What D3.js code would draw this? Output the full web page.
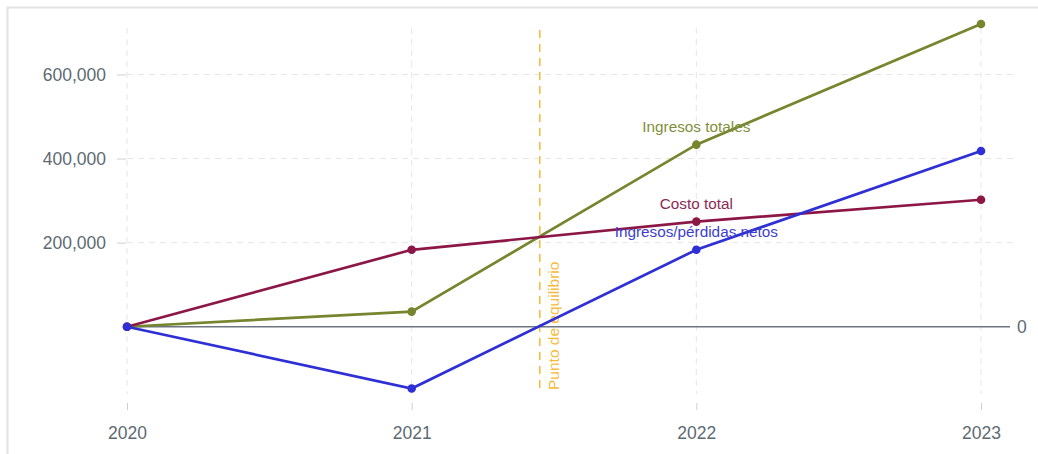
<!DOCTYPE html>
<html>
<head>
<meta charset="utf-8">
<script src="https://cdn.jsdelivr.net/npm/d3@7"></script>
<style>
  body { margin: 0; background: #fff; }
  svg { display: block; font-family: "Liberation Sans", Arial, sans-serif; }
</style>
</head>
<body>
<svg id="chart"></svg>
<script>
const years = [2020, 2021, 2022, 2023];
const ingresosTotales = [0, 36000, 433000, 720000];
const costoTotal = [0, 183000, 250000, 302000];
const ingresosNetos = [0, -147000, 183000, 418000];
const yTicks = [200000, 400000, 600000];
const breakEven = 2021.45;

const series = [
  { name: "Ingresos totales", values: ingresosTotales, color: "#76852e", label: "#7f8f3a" },
  { name: "Costo total", values: costoTotal, color: "#8c1747", label: "#8a2a55" },
  { name: "Ingresos/pérdidas netos", values: ingresosNetos, color: "#2f2fd6", label: "#3d3dd0" }
];

const width = 1038;
const height = 454;

const svg = d3.select("#chart").attr("width", width).attr("height", height);

// light frame (only top/left visible in the shot)
svg.append("rect")
  .attr("x", 7.5).attr("y", 7.5)
  .attr("width", width + 20).attr("height", height + 20)
  .attr("fill", "none").attr("stroke", "#e2e2e2").attr("stroke-width", 2);

const x = d3.scaleLinear().domain([2020, 2023]).range([127, 981]);
const y = d3.scaleLinear().domain([-160000, 720000]).range([394, 24]);

// grid
svg.append("g")
  .selectAll("line")
  .data(years)
  .join("line")
  .attr("x1", (d) => x(d)).attr("x2", (d) => x(d))
  .attr("y1", y(720000) + 4).attr("y2", y(-160000))
  .attr("stroke", "#e6e6e6").attr("stroke-dasharray", "6,5");

svg.append("g")
  .selectAll("line")
  .data(yTicks)
  .join("line")
  .attr("x1", x(2020)).attr("x2", 1013)
  .attr("y1", (d) => y(d)).attr("y2", (d) => y(d))
  .attr("stroke", "#e6e6e6").attr("stroke-dasharray", "6,5");

// axes
const yAxis = d3.axisLeft(y).tickValues(yTicks).tickFormat(d3.format(",")).tickSize(9).tickPadding(11);
const gy = svg.append("g").attr("transform", `translate(${x(2020) - 1},0)`).call(yAxis);
gy.select(".domain").remove();
gy.selectAll(".tick line").attr("stroke", "#cfcfcf");
gy.selectAll(".tick text").attr("fill", "#5d6a73").style("font-size", "17.5px");

const xAxis = d3.axisBottom(x).tickValues(years).tickFormat(d3.format("d")).tickSize(7).tickPadding(17);
const gx = svg.append("g").attr("transform", "translate(0,403)").call(xAxis);
gx.select(".domain").remove();
gx.selectAll(".tick line").attr("stroke", "#cfcfcf");
gx.selectAll(".tick text").attr("fill", "#5d6a73").style("font-size", "17.5px");

// zero line
svg.append("line")
  .attr("x1", x(2020)).attr("x2", 1010)
  .attr("y1", y(0)).attr("y2", y(0))
  .attr("stroke", "#6b7680").attr("stroke-width", 1.5);
svg.append("text")
  .attr("x", 1017).attr("y", y(0)).attr("dy", "0.35em")
  .attr("fill", "#5d6a73").style("font-size", "17.5px")
  .text("0");

// break-even line
svg.append("line")
  .attr("x1", x(breakEven)).attr("x2", x(breakEven))
  .attr("y1", 30).attr("y2", 390)
  .attr("stroke", "#f5bb3c").attr("stroke-width", 1.5)
  .attr("stroke-dasharray", "8,6");
svg.append("text")
  .attr("transform", `translate(${x(breakEven) + 19},390) rotate(-90)`)
  .attr("fill", "#f5bb3c").style("font-size", "15.5px")
  .text("Punto de equilibrio");

// lines
const line = d3.line().x((d, i) => x(years[i])).y((d) => y(d));

series.forEach((s) => {
  svg.append("path")
    .datum(s.values)
    .attr("d", line)
    .attr("fill", "none")
    .attr("stroke", s.color)
    .attr("stroke-width", 2.7);
  svg.append("g")
    .selectAll("circle")
    .data(s.values)
    .join("circle")
    .attr("cx", (d, i) => x(years[i]))
    .attr("cy", (d) => y(d))
    .attr("r", 4.3)
    .attr("fill", s.color);
});

// labels
const labelPos = [
  { s: series[0], yy: 132 },
  { s: series[1], yy: 209 },
  { s: series[2], yy: 237 }
];
labelPos.forEach((l) => {
  svg.append("text")
    .attr("x", x(2022)).attr("y", l.yy)
    .attr("text-anchor", "middle")
    .attr("fill", l.s.label)
    .style("font-size", "15.3px")
    .text(l.s.name);
});
</script>
</body>
</html>
